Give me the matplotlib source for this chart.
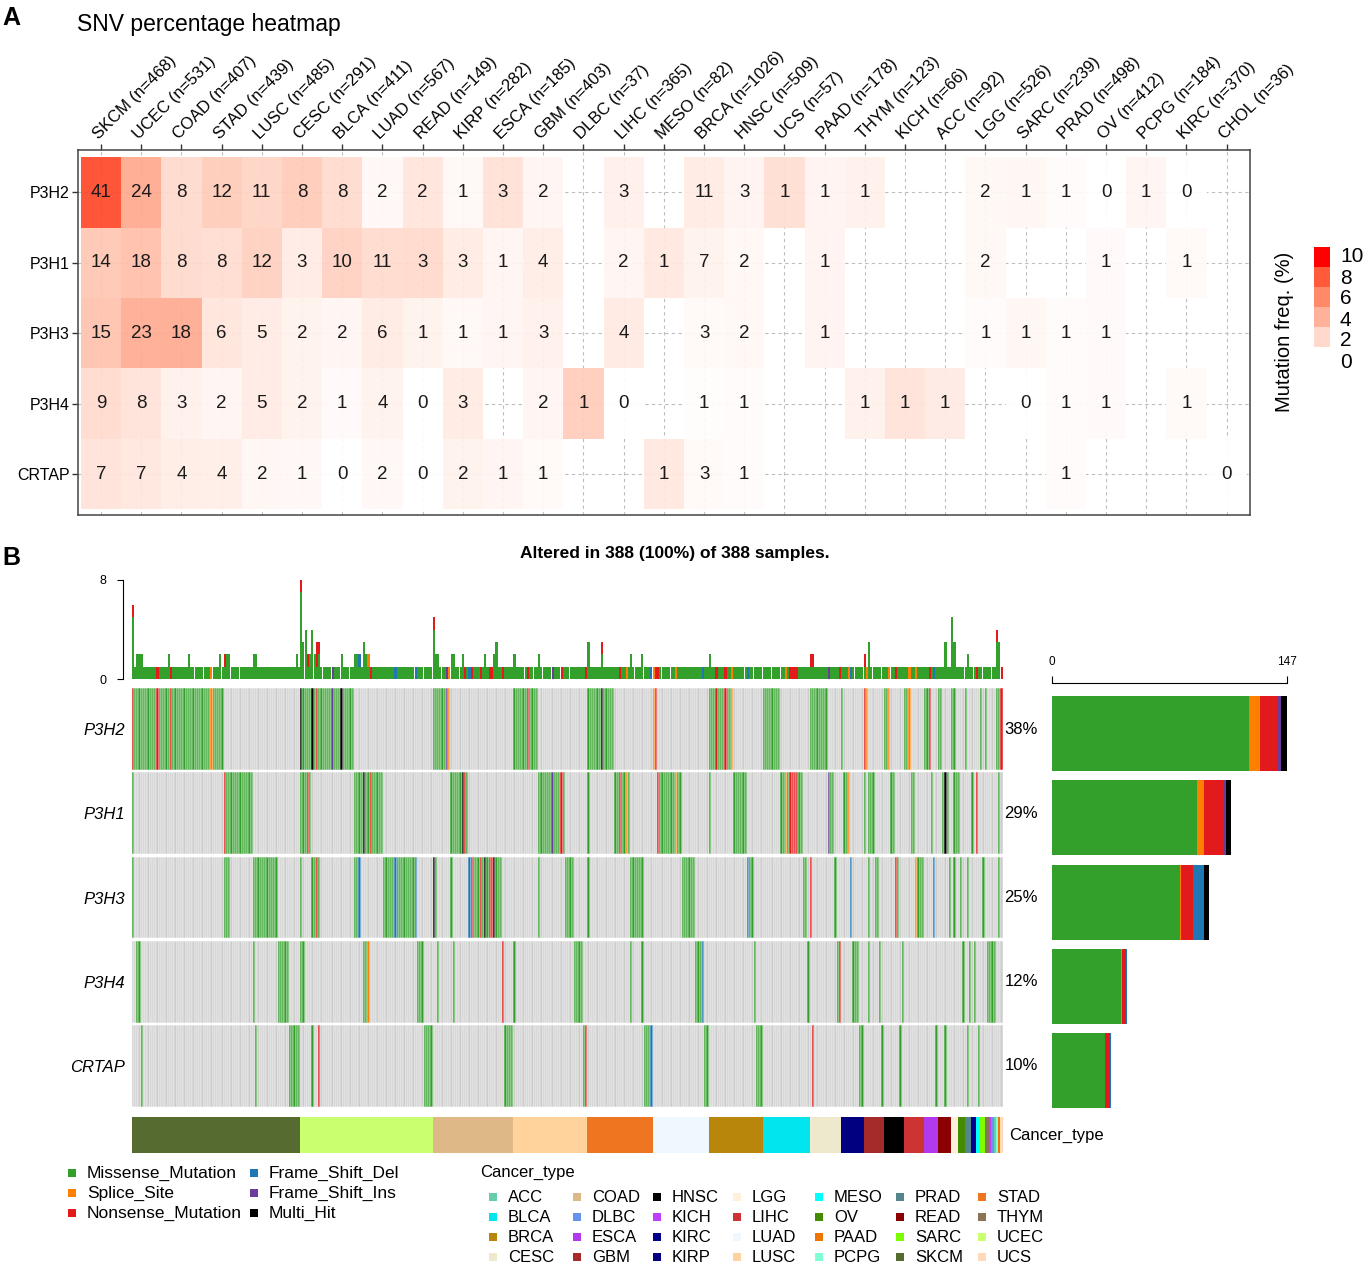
import numpy as np
import matplotlib
matplotlib.use("Agg")
import matplotlib.pyplot as plt
from matplotlib.patches import Rectangle
from matplotlib.transforms import blended_transform_factory

plt.rcParams['font.family'] = ['Liberation Sans', 'DejaVu Sans']

W, H = 1369, 1269

# ---------------- panel A: SNV counts per cancer type ----------------
genes = ["P3H2", "P3H1", "P3H3", "P3H4", "CRTAP"]
cancers_a = ["SKCM", "UCEC", "COAD", "STAD", "LUSC", "CESC", "BLCA", "LUAD", "READ", "KIRP",
             "ESCA", "GBM", "DLBC", "LIHC", "MESO", "BRCA", "HNSC", "UCS", "PAAD", "THYM",
             "KICH", "ACC", "LGG", "SARC", "PRAD", "OV", "PCPG", "KIRC", "CHOL"]
n_a = [468, 531, 407, 439, 485, 291, 411, 567, 149, 282, 185, 403, 37, 365, 82, 1026, 509,
       57, 178, 123, 66, 92, 526, 239, 498, 412, 184, 370, 36]
N = None
snv_p3h2 = [41, 24, 8, 12, 11, 8, 8, 2, 2, 1, 3, 2, N, 3, N, 11, 3, 1, 1, 1, N, N, 2, 1, 1, 0, 1, 0, N]
snv_p3h1 = [14, 18, 8, 8, 12, 3, 10, 11, 3, 3, 1, 4, N, 2, 1, 7, 2, N, 1, N, N, N, 2, N, N, 1, N, 1, N]
snv_p3h3 = [15, 23, 18, 6, 5, 2, 2, 6, 1, 1, 1, 3, N, 4, N, 3, 2, N, 1, N, N, N, 1, 1, 1, 1, N, N, N]
snv_p3h4 = [9, 8, 3, 2, 5, 2, 1, 4, 0, 3, N, 2, 1, 0, N, 1, 1, N, N, 1, 1, 1, N, 0, 1, 1, N, 1, N]
snv_crtap = [7, 7, 4, 4, 2, 1, 0, 2, 0, 2, 1, 1, N, N, 1, 3, 1, N, N, N, N, N, N, N, 1, N, N, N, 0]
snv_counts = [snv_p3h2, snv_p3h1, snv_p3h3, snv_p3h4, snv_crtap]
freq_ticks = [10, 8, 6, 4, 2, 0]

# ---------------- panel B: oncoplot ----------------
cancer_order = ["SKCM", "UCEC", "COAD", "LUSC", "STAD", "LUAD", "BRCA", "BLCA", "CESC", "KIRP",
                "GBM", "HNSC", "LIHC", "ESCA", "READ", "LGG", "OV", "PRAD", "KIRC", "MESO",
                "SARC", "THYM", "KICH", "DLBC", "ACC", "PCPG", "PAAD", "UCS"]
cancer_sizes = [75, 59, 36, 33, 29, 25, 24, 21, 14, 10, 9, 9, 9, 6, 6, 3, 3, 3, 2, 2,
                2, 2, 1, 1, 1, 1, 1, 1]
cancer_colors = {
    "ACC": "#66CDAA", "BLCA": "#00E5EE", "BRCA": "#B8860B", "CESC": "#EEE8CD",
    "COAD": "#DEB887", "DLBC": "#6495ED", "ESCA": "#B23AEE", "GBM": "#A52A2A",
    "HNSC": "#000000", "KICH": "#BF3EFF", "KIRC": "#00008B", "KIRP": "#000080",
    "LGG": "#FFEFDB", "LIHC": "#CD3333", "LUAD": "#F0F8FF", "LUSC": "#FFD39B",
    "MESO": "#00FFFF", "OV": "#458B00", "PAAD": "#EE7600", "PCPG": "#7FFFD4",
    "PRAD": "#53868B", "READ": "#8B0000", "SARC": "#7CFC00", "SKCM": "#556B2F",
    "STAD": "#EE7621", "THYM": "#8B7355", "UCEC": "#CAFF70", "UCS": "#FFDAB9"}

mut_names = ["Missense_Mutation", "Splice_Site", "Nonsense_Mutation",
             "Frame_Shift_Del", "Frame_Shift_Ins", "Multi_Hit"]
mut_codes = ["M", "S", "N", "D", "I", "X"]
mut_colors = ["#33A02C", "#FF7F00", "#E31A1C", "#1F78B4", "#6A3D9A", "#000000"]

# mutated samples (index in sorted sample order): missense spans + other classes
p3h2_spans = [(0, 40), (75, 98), (134, 141), (170, 180), (203, 214), (232, 233), (257, 267),
              (281, 288), (302, 309), (316, 316), (326, 327), (335, 337), (344, 346), (353, 355),
              (359, 360), (365, 366), (371, 371), (378, 378), (380, 380), (385, 387)]
p3h2_other = {0: "N", 11: "N", 17: "N", 35: "S", 75: "X", 80: "X", 82: "N", 89: "I", 93: "X",
              140: "I", 141: "S", 176: "N", 209: "X", 232: "S", 233: "N", 260: "N", 264: "N",
              267: "S", 326: "N", 327: "S", 337: "S", 346: "S", 355: "N", 387: "N"}
p3h1_spans = [(0, 0), (41, 53), (75, 79), (99, 111), (142, 149), (181, 192), (203, 203),
              (215, 221), (234, 244), (257, 257), (268, 273), (289, 298), (310, 312), (317, 319),
              (326, 326), (328, 330), (338, 339), (347, 348), (356, 356), (361, 363), (366, 368),
              (374, 374), (376, 376), (386, 386)]
p3h1_other = {41: "N", 78: "N", 103: "X", 106: "N", 147: "X", 148: "N", 187: "I", 191: "N",
              217: "N", 220: "S", 234: "N", 242: "S", 291: "S", 293: "N", 294: "N", 295: "N",
              296: "N", 310: "I", 319: "S", 362: "X", 376: "N"}
p3h3_spans = [(0, 0), (41, 43), (54, 64), (75, 75), (80, 83), (99, 101), (112, 126), (134, 135),
              (142, 142), (150, 164), (181, 181), (193, 196), (203, 203), (222, 227), (245, 250),
              (274, 276), (299, 300), (302, 302), (313, 313), (320, 320), (328, 328), (331, 332),
              (340, 341), (349, 352), (357, 357), (364, 364), (366, 366), (369, 369), (372, 372),
              (379, 379), (386, 386)]
p3h3_other = {82: "N", 101: "D", 117: "D", 126: "D", 134: "X", 150: "D", 151: "N", 155: "N",
              157: "X", 159: "N", 160: "N", 161: "X", 274: "D", 302: "N", 320: "D", 340: "N",
              349: "S", 357: "D"}
p3h4_spans = [(2, 3), (54, 54), (65, 69), (75, 76), (103, 105), (127, 129), (136, 136),
              (143, 143), (165, 165), (170, 170), (197, 200), (222, 222), (227, 227), (251, 254),
              (277, 277), (301, 301), (314, 315), (321, 323), (328, 328), (333, 333), (343, 343),
              (370, 370), (373, 373), (375, 375), (381, 384)]
p3h4_other = {105: "S", 165: "N", 254: "D", 315: "N"}
crtap_spans = [(4, 4), (55, 55), (70, 74), (80, 80), (83, 83), (130, 133), (166, 169),
               (201, 202), (228, 231), (255, 256), (278, 280), (303, 303), (324, 325), (334, 334),
               (342, 342), (358, 358), (362, 362), (372, 372), (377, 377)]
crtap_other = {83: "N", 202: "N", 231: "D", 303: "N"}
gene_spans = [p3h2_spans, p3h1_spans, p3h3_spans, p3h4_spans, crtap_spans]
gene_other = [p3h2_other, p3h1_other, p3h3_other, p3h4_other, crtap_other]

# additional variants per sample seen in the top bar plot
extra_hits = {0: "MMM", 16: "M", 25: "M", 39: "M", 73: "M", 75: "MMN", 77: "MM", 82: "M",
              134: "MN", 162: "MM", 209: "N", 365: "MMMM", 385: "MMN"}


def white_red(t):
    # ggplot-like gradient white -> red in Lab space
    t = np.clip(t, 0, 1)
    L = 100 + (53.24 - 100) * t
    a = 80.09 * t
    b = 67.20 * t
    fy = (L + 16) / 116
    fx = fy + a / 500
    fz = fy - b / 200

    def finv(v):
        return v ** 3 if v ** 3 > 0.008856 else (v - 16 / 116) / 7.787
    X, Y, Z = 0.95047 * finv(fx), finv(fy), 1.08883 * finv(fz)
    rgb = [3.2406 * X - 1.5372 * Y - 0.4986 * Z,
           -0.9689 * X + 1.8758 * Y + 0.0415 * Z,
           0.0557 * X - 0.2040 * Y + 1.0570 * Z]
    out = []
    for c in rgb:
        c = 12.92 * c if c <= 0.0031308 else 1.055 * c ** (1 / 2.4) - 0.055
        out.append(float(np.clip(c, 0, 1)))
    return tuple(out)


fig = plt.figure(figsize=(W / 100, H / 100), dpi=100)


def add_ax(x0, y0, x1, y1):
    return fig.add_axes([x0 / W, 1 - y1 / H, (x1 - x0) / W, (y1 - y0) / H])


# ======== Panel A ========
fig.text(2 / W, 1 - 18 / H, "A", fontsize=18, fontweight="bold", va="center")
fig.text(77 / W, 1 - 25 / H, "SNV percentage heatmap", fontsize=16.5, va="center")

axa = add_ax(78, 150, 1250, 515)
ncol = len(cancers_a)
for j in range(ncol):
    axa.axvline(j, color="#BDBDBD", lw=0.8, ls=(0, (3, 3)), zorder=0)
for i in range(len(genes)):
    axa.axhline(i, color="#BDBDBD", lw=0.8, ls=(0, (3, 3)), zorder=0)
for i, row in enumerate(snv_counts):
    for j, v in enumerate(row):
        if v is None:
            continue
        pct = v / n_a[j] * 100
        axa.add_patch(Rectangle((j - 0.5, i - 0.5), 1, 1, facecolor=white_red(pct / 10),
                                edgecolor="none", alpha=0.92, zorder=1))
        axa.text(j, i, str(v), ha="center", va="center", fontsize=13.5, color="#1a1a1a", zorder=2)
axa.set_xlim(-0.572, 28.58)
axa.set_ylim(4.58, -0.6)
axa.xaxis.tick_top()
axa.set_xticks(range(ncol))
axa.set_xticklabels([f"{c} (n={n})" for c, n in zip(cancers_a, n_a)],
                    rotation=45, ha="left", va="bottom", rotation_mode="anchor", fontsize=12)
axa.set_yticks(range(len(genes)))
axa.set_yticklabels(genes, fontsize=11.5)
axa.tick_params(length=4, width=1, color="#333333", pad=2)
for lab in axa.get_xticklabels():
    lab.set_x(lab.get_position()[0])
for sp in axa.spines.values():
    sp.set_color("#444444")
    sp.set_linewidth(1.1)

# ======== Panel B ========
fig.text(2 / W, 1 - 558 / H, "B", fontsize=18, fontweight="bold", va="center")
fig.text(675 / W, 1 - 553 / H, "Altered in 388 (100%) of 388 samples.", fontsize=12.5,
         fontweight="bold", ha="center", va="center")

n_samp = sum(cancer_sizes)
mat = np.full((len(genes), n_samp), "", dtype=object)
for g in range(len(genes)):
    for a, b in gene_spans[g]:
        for s in range(a, b + 1):
            mat[g, s] = "M"
    for s, c in gene_other[g].items():
        mat[g, s] = c

# top bar: variants per sample, stacked by class
stack = np.zeros((5, n_samp))
for s in range(n_samp):
    for g in range(len(genes)):
        c = mat[g, s]
        if c == "X":
            stack[0, s] += 2
        elif c:
            stack[mut_codes.index(c), s] += 1
    for c in extra_hits.get(s, ""):
        stack[mut_codes.index(c), s] += 1

x = np.arange(n_samp)
axt = add_ax(131.7, 580, 1002.7, 679)
bottom = np.zeros(n_samp)
for k in range(5):
    axt.bar(x, stack[k], bottom=bottom, width=0.95, color=mut_colors[k], linewidth=0)
    bottom += stack[k]
axt.set_xlim(-0.5, n_samp - 0.5)
axt.set_ylim(0, 8)
axt.set_yticks([0, 8])
axt.set_xticks([])
for side in ["top", "right", "bottom"]:
    axt.spines[side].set_visible(False)
axt.spines["left"].set_position(("outward", 6))
axt.tick_params(axis="y", labelsize=9, length=4, pad=8)

# oncoprint matrix
axo = add_ax(131.7, 687, 1002.7, 1108)
for g in range(len(genes)):
    cols = ["#CCCCCC" if not c else mut_colors[mut_codes.index(c)] for c in mat[g]]
    axo.bar(x, 0.97, bottom=g - 0.485, width=1, color=cols, edgecolor="white", linewidth=0.35)
axo.set_xlim(-0.5, n_samp - 0.5)
axo.set_ylim(len(genes) - 0.5, -0.5)
axo.set_xticks([])
axo.set_yticks(range(len(genes)))
axo.set_yticklabels(genes, fontsize=12, style="italic")
axo.tick_params(length=0, pad=5)
for sp in axo.spines.values():
    sp.set_visible(False)
trans = blended_transform_factory(axo.transAxes, axo.transData)
gene_totals = [(mat[g] != "").sum() for g in range(len(genes))]
for g in range(len(genes)):
    axo.text(1.002, g, f"{round(gene_totals[g] / n_samp * 100)}%", transform=trans,
             ha="left", va="center", fontsize=12)

# cancer type annotation
axc = add_ax(131.7, 1117, 1002.7, 1153)
starts = np.cumsum([0] + cancer_sizes[:-1])
axc.bar(starts - 0.5, 1, width=cancer_sizes, align="edge",
        color=[cancer_colors[c] for c in cancer_order], linewidth=0)
axc.set_xlim(-0.5, n_samp - 0.5)
axc.set_ylim(0, 1)
axc.axis("off")
axc.text(1.007, 0.5, "Cancer_type", transform=axc.transAxes, ha="left", va="center", fontsize=12)

# right bars: mutated samples per gene by class
axr = add_ax(1052, 687, 1287, 1108)
left = np.zeros(len(genes))
for k, code in enumerate(mut_codes):
    vals = np.array([(mat[g] == code).sum() for g in range(len(genes))])
    axr.barh(np.arange(len(genes)) + 0.055, vals, left=left, height=0.89,
             color=mut_colors[k], linewidth=0)
    left += vals
axr.set_xlim(0, max(gene_totals))
axr.set_ylim(len(genes) - 0.5, -0.5)
axr.xaxis.tick_top()
axr.set_xticks([0, max(gene_totals)])
axr.set_yticks([])
for side in ["right", "bottom", "left"]:
    axr.spines[side].set_visible(False)
axr.spines["top"].set_position(("outward", 3))
axr.tick_params(axis="x", labelsize=8.5, length=5, pad=6)

# ---- legends (figure pixel space) ----
axl = fig.add_axes([0, 0, 1, 1])
axl.set_xlim(0, W)
axl.set_ylim(H, 0)
axl.axis("off")

# mutation freq colour key of panel A
axl.text(1285, 332, "Mutation freq. (%)", rotation=90, ha="center", va="center", fontsize=14.5)
for k, v in enumerate(freq_ticks[:-1]):
    axl.add_patch(Rectangle((1314, 247 + k * 20), 16, 20, facecolor=white_red(v / 10),
                            edgecolor="none"))
for k, v in enumerate(freq_ticks):
    axl.text(1340, 257 + k * 21, str(v), ha="left", va="center", fontsize=15)

# variant classification legend
for k, (name, col) in enumerate(zip(mut_names, mut_colors)):
    cx = 72 if k < 3 else 254
    cy = 1173 + (k % 3) * 20
    axl.add_patch(Rectangle((cx - 4, cy - 4), 8, 8, facecolor=col, edgecolor="none"))
    axl.text(cx + 15, cy, name, ha="left", va="center", fontsize=12.5)

# cancer type legend
axl.text(480, 1172, "Cancer_type", ha="left", va="center", fontsize=12)
leg_x = [493, 577, 657, 737, 819, 900, 982]
leg_y = [1197, 1217, 1237, 1257]
for k, c in enumerate(sorted(cancer_colors)):
    cx = leg_x[k // 4]
    cy = leg_y[k % 4]
    axl.add_patch(Rectangle((cx - 4, cy - 4), 8, 8, facecolor=cancer_colors[c], edgecolor="none"))
    axl.text(cx + 15, cy, c, ha="left", va="center", fontsize=12)

fig.savefig("out.png", dpi=100)
